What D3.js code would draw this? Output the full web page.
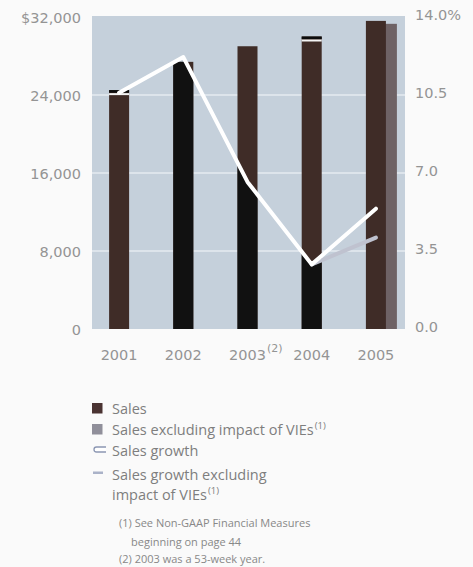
<!DOCTYPE html>
<html>
<head>
<meta charset="utf-8">
<script src="https://cdn.jsdelivr.net/npm/d3@7"></script>
<style>
  html, body { margin: 0; padding: 0; background: #fafafa; }
  svg { display: block; }
</style>
</head>
<body>
<svg id="chart" width="473" height="567"></svg>
<script>
// Sales (USD millions) and year-over-year sales growth (%), 2001–2005
const years = ["2001", "2002", "2003", "2004", "2005"];
const yearNotes = ["", "", "(2)", "", ""];
const sales = [24500, 27400, 29000, 30000, 31600];
const salesExVIE = [null, null, null, null, 31300];
const growth = [10.6, 12.2, 6.6, 2.9, 5.4];
const growthExVIE = [null, null, null, 2.9, 4.1];

const leftTicks = [0, 8000, 16000, 24000, 32000];
const leftTickLabels = ["0", "8,000", "16,000", "24,000", "$32,000"];
const rightTicks = [0, 3.5, 7, 10.5, 14];
const rightTickLabels = ["0.0", "3.5", "7.0", "10.5", "14.0%"];

// Years whose bar is shaded dark below the growth line, and years with a capped top
const shadedYears = ["2002", "2003", "2004"];
const cappedYears = ["2001", "2004"];

const legendItems = [
  { type: "box", color: "#4a3332", lines: ["Sales"], sup: "" },
  { type: "box", color: "#908f9a", lines: ["Sales excluding impact of VIEs"], sup: "(1)" },
  { type: "line", color: "#ffffff", lines: ["Sales growth"], sup: "" },
  { type: "dash", color: "#aab2c8", lines: ["Sales growth excluding", "impact of VIEs"], sup: "(1)" }
];
const footnotes = [
  { text: "(1) See Non-GAAP Financial Measures", indent: 0 },
  { text: "beginning on page 44", indent: 12 },
  { text: "(2) 2003 was a 53-week year.", indent: 0 }
];

const svg = d3.select("#chart");

const plot = { left: 92, right: 405, top: 17, bottom: 329 };
const x = d3.scaleBand().domain(years).range([87, 408]);
const ySales = d3.scaleLinear().domain([0, 32000]).range([plot.bottom, plot.top]);
const yPct = d3.scaleLinear().domain([0, 14]).range([plot.bottom, plot.top]);
const cx = d => x(d) + x.bandwidth() / 2;
const barW = 20;

const axisFont = "'DejaVu Sans', sans-serif";
const axisColor = "#949494";

// Plot background
svg.append("rect")
  .attr("x", plot.left).attr("y", plot.top - 1)
  .attr("width", plot.right - plot.left).attr("height", plot.bottom - plot.top + 1)
  .attr("fill", "#c5d0db");

// Horizontal gridlines
svg.append("g").selectAll("line")
  .data(leftTicks.filter(v => v > 0 && v < 32000))
  .join("line")
  .attr("x1", plot.left).attr("x2", plot.right)
  .attr("y1", d => ySales(d)).attr("y2", d => ySales(d))
  .attr("stroke", "#e4ebf1").attr("stroke-width", 1.6);

const rows = years.map((yr, i) => ({
  year: yr, sales: sales[i], exVIE: salesExVIE[i], growth: growth[i], growthEx: growthExVIE[i]
}));

// Sales excluding VIEs (behind the sales bars, offset to the right)
svg.append("g").selectAll("rect")
  .data(rows.filter(d => d.exVIE != null))
  .join("rect")
  .attr("x", d => cx(d.year) + 1)
  .attr("y", d => ySales(d.exVIE))
  .attr("width", barW)
  .attr("height", d => ySales(0) - ySales(d.exVIE))
  .attr("fill", "#6e6265");

// Sales bars
svg.append("g").selectAll("rect")
  .data(rows)
  .join("rect")
  .attr("x", d => cx(d.year) - barW / 2)
  .attr("y", d => ySales(d.sales))
  .attr("width", barW)
  .attr("height", d => ySales(0) - ySales(d.sales))
  .attr("fill", "#3f2c27");

// Dark shading of bars below the growth line
const lineGen = d3.line()
  .x(d => cx(d.year))
  .y(d => yPct(d.growth));
const areaGen = d3.area()
  .x(d => cx(d.year))
  .y0(plot.bottom + 2)
  .y1(d => yPct(d.growth));
svg.append("clipPath").attr("id", "underLine")
  .append("path")
  .attr("d", areaGen(rows));

svg.append("g").attr("clip-path", "url(#underLine)")
  .selectAll("rect")
  .data(rows.filter(d => shadedYears.includes(d.year)))
  .join("rect")
  .attr("x", d => cx(d.year) - barW / 2)
  .attr("y", d => ySales(d.sales))
  .attr("width", barW)
  .attr("height", d => ySales(0) - ySales(d.sales))
  .attr("fill", "#111111");

// Capped bar tops
const caps = svg.append("g").selectAll("g")
  .data(rows.filter(d => cappedYears.includes(d.year)))
  .join("g");
caps.append("rect")
  .attr("x", d => cx(d.year) - barW / 2)
  .attr("y", d => ySales(d.sales))
  .attr("width", barW).attr("height", 2.5)
  .attr("fill", "#0c0c0c");
caps.append("rect")
  .attr("x", d => cx(d.year) - barW / 2)
  .attr("y", d => ySales(d.sales) + 3)
  .attr("width", barW).attr("height", 2)
  .attr("fill", "#f4f4f4");

// Growth excluding VIEs line
const lineEx = d3.line()
  .defined(d => d.growthEx != null)
  .x(d => cx(d.year))
  .y(d => yPct(d.growthEx));
svg.append("path")
  .attr("d", lineEx(rows))
  .attr("fill", "none")
  .attr("stroke", "#bfc2cf")
  .attr("stroke-width", 4)
  .attr("stroke-linecap", "round");

// Growth line
svg.append("path")
  .attr("d", lineGen(rows))
  .attr("fill", "none")
  .attr("stroke", "#ffffff")
  .attr("stroke-width", 4)
  .attr("stroke-linejoin", "round")
  .attr("stroke-linecap", "round");

// Left axis
const leftAxis = d3.axisLeft(ySales)
  .tickValues(leftTicks)
  .tickFormat((d, i) => leftTickLabels[i])
  .tickSize(0).tickPadding(0);
const gL = svg.append("g").attr("transform", "translate(81,0)").call(leftAxis);
gL.select(".domain").remove();
gL.selectAll("text")
  .attr("font-family", axisFont).attr("font-size", 14.5)
  .attr("fill", axisColor).attr("dy", "0.36em");

// Right axis
const rightAxis = d3.axisRight(yPct)
  .tickValues(rightTicks)
  .tickFormat((d, i) => rightTickLabels[i])
  .tickSize(0).tickPadding(0);
const gR = svg.append("g").attr("transform", "translate(415,0)").call(rightAxis);
gR.select(".domain").remove();
gR.selectAll("text")
  .attr("font-family", axisFont).attr("font-size", 14.5)
  .attr("fill", axisColor).attr("dy", "0.2em");

// Year labels
const yearG = svg.append("g");
years.forEach((yr, i) => {
  const t = yearG.append("text")
    .attr("x", cx(yr)).attr("y", 360)
    .attr("text-anchor", "middle")
    .attr("font-family", axisFont).attr("font-size", 14.5)
    .attr("fill", axisColor)
    .text(yr);
  if (yearNotes[i]) {
    const w = t.node().getComputedTextLength();
    yearG.append("text")
      .attr("x", cx(yr) + w / 2 + 1).attr("y", 352)
      .attr("font-family", axisFont).attr("font-size", 11)
      .attr("fill", axisColor)
      .text(yearNotes[i]);
  }
});

// Legend
const legFont = "'Open Sans', 'Noto Sans', sans-serif";
const legColor = "#7e7e7e";
const legX = 112;
const rowBase = [414, 435, 456, 480];
const lineGap = 20;
legendItems.forEach((item, i) => {
  const by = rowBase[i];
  if (item.type === "box") {
    svg.append("rect")
      .attr("x", 92).attr("y", by - 11)
      .attr("width", 10.5).attr("height", 10.5)
      .attr("fill", item.color);
  } else if (item.type === "line") {
    svg.append("path")
      .attr("d", `M106,${by - 9} H96.5 A2.5,2.5 0 0 0 96.5,${by - 4} H106`)
      .attr("fill", "#ffffff")
      .attr("stroke", "#8c97b3").attr("stroke-width", 1.3);
  } else {
    svg.append("rect")
      .attr("x", 93).attr("y", by - 8.5)
      .attr("width", 10).attr("height", 2.5)
      .attr("fill", item.color);
  }
  item.lines.forEach((ln, j) => {
    const t = svg.append("text")
      .attr("x", legX).attr("y", by + j * lineGap)
      .attr("font-family", legFont).attr("font-size", 14.5)
      .attr("fill", legColor)
      .text(ln);
    if (item.sup && j === item.lines.length - 1) {
      t.append("tspan")
        .attr("dx", 1).attr("dy", -6)
        .attr("font-size", 9.5)
        .text(item.sup);
    }
  });
});

// Footnotes
const noteBase = [527, 546, 563];
footnotes.forEach((f, i) => {
  svg.append("text")
    .attr("x", 119 + f.indent).attr("y", noteBase[i])
    .attr("font-family", legFont).attr("font-size", 11)
    .attr("fill", "#888888")
    .text(f.text);
});
</script>
</body>
</html>
